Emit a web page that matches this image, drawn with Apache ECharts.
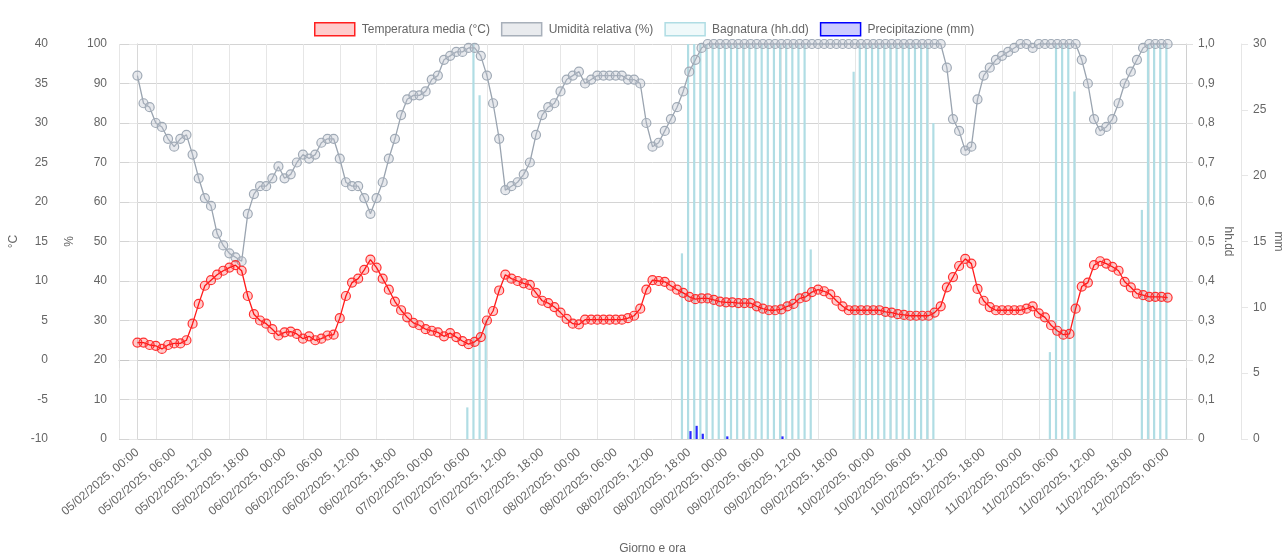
<!DOCTYPE html>
<html>
<head>
<meta charset="utf-8">
<title>Meteo orario</title>
<script src="https://cdn.jsdelivr.net/npm/echarts@6/dist/echarts.min.js"></script>
<style>
html, body { margin: 0; padding: 0; background: #fff; }
#chart { width: 1284px; height: 556px; }
</style>
</head>
<body>
<div id="chart"></div>
<script>
// valori orari, indice 0 = 05/02/2025 00:00 ... indice 168 = 12/02/2025 00:00
var temperatura = [
    2.2, 2.2, 1.9, 1.8, 1.4, 1.9, 2.1, 2.1, 2.5, 4.6, 7.1, 9.4, 10.1, 10.8, 11.3, 11.7, 12.0, 11.3, 8.1, 5.8, 5.0, 4.6, 3.9, 3.1,
    3.5, 3.6, 3.3, 2.7, 3.0, 2.5, 2.7, 3.1, 3.2, 5.3, 8.1, 9.8, 10.3, 11.4, 12.7, 11.7, 10.3, 8.9, 7.4, 6.3, 5.4, 4.7, 4.4, 3.9,
    3.7, 3.5, 3.0, 3.4, 2.9, 2.4, 2.0, 2.3, 2.9, 5.0, 6.2, 8.8, 10.8, 10.3, 10.0, 9.7, 9.5, 8.5, 7.5, 7.2, 6.7, 6.0, 5.2, 4.6,
    4.5, 5.1, 5.1, 5.1, 5.1, 5.1, 5.1, 5.1, 5.3, 5.6, 6.5, 8.9, 10.1, 10.0, 9.9, 9.4, 8.9, 8.5, 8.0, 7.7, 7.8, 7.8, 7.6, 7.4,
    7.3, 7.3, 7.2, 7.2, 7.2, 6.8, 6.5, 6.3, 6.3, 6.4, 6.8, 7.1, 7.8, 8.0, 8.6, 8.9, 8.7, 8.3, 7.5, 6.8, 6.3, 6.3, 6.3, 6.3,
    6.3, 6.3, 6.1, 6.0, 5.8, 5.7, 5.6, 5.6, 5.6, 5.6, 6.0, 6.8, 9.2, 10.5, 11.9, 12.8, 12.2, 9.0, 7.5, 6.7, 6.3, 6.3, 6.3, 6.3,
    6.3, 6.5, 6.8, 5.9, 5.4, 4.4, 3.7, 3.2, 3.3, 6.5, 9.3, 9.8, 12.0, 12.5, 12.2, 11.8, 11.3, 9.9, 9.2, 8.4, 8.2, 8.0, 8.0, 8.0,
    7.9
];
var umidita = [
    92, 85, 84, 80, 79, 76, 74, 76, 77, 72, 66, 61, 59, 52, 49, 47, 46, 45, 57, 62, 64, 64, 66, 69,
    66, 67, 70, 72, 71, 72, 75, 76, 76, 71, 65, 64, 64, 61, 57, 61, 65, 71, 76, 82, 86, 87, 87, 88,
    91, 92, 96, 97, 98, 98, 99, 99, 97, 92, 85, 76, 63, 64, 65, 67, 70, 77, 82, 84, 85, 88, 91, 92,
    93, 90, 91, 92, 92, 92, 92, 92, 91, 91, 90, 80, 74, 75, 78, 81, 84, 88, 93, 96, 99, 100, 100, 100,
    100, 100, 100, 100, 100, 100, 100, 100, 100, 100, 100, 100, 100, 100, 100, 100, 100, 100, 100, 100, 100, 100, 100, 100,
    100, 100, 100, 100, 100, 100, 100, 100, 100, 100, 100, 100, 94, 81, 78, 73, 74, 86, 92, 94, 96, 97, 98, 99,
    100, 100, 99, 100, 100, 100, 100, 100, 100, 100, 96, 90, 81, 78, 79, 81, 85, 90, 93, 96, 99, 100, 100, 100,
    100
];
var bagnatura = [
    0, 0, 0, 0, 0, 0, 0, 0, 0, 0, 0, 0, 0, 0, 0, 0, 0, 0, 0, 0, 0, 0, 0, 0,
    0, 0, 0, 0, 0, 0, 0, 0, 0, 0, 0, 0, 0, 0, 0, 0, 0, 0, 0, 0, 0, 0, 0, 0,
    0, 0, 0, 0, 0, 0, 0.08, 1, 0.87, 0.3, 0, 0, 0, 0, 0, 0, 0, 0, 0, 0, 0, 0, 0, 0,
    0, 0, 0, 0, 0, 0, 0, 0, 0, 0, 0, 0, 0, 0, 0, 0, 0, 0.47, 1, 1, 1, 1, 1, 1,
    1, 1, 1, 1, 1, 1, 1, 1, 1, 1, 1, 1, 1, 1, 0.48, 0, 0, 0, 0, 0, 0, 0.93, 1, 1,
    1, 1, 1, 1, 1, 1, 1, 1, 1, 1, 0.8, 0, 0, 0, 0, 0, 0, 0, 0, 0, 0, 0, 0, 0,
    0, 0, 0, 0, 0, 0.22, 1, 1, 1, 0.88, 0, 0, 0, 0, 0, 0, 0, 0, 0, 0, 0.58, 1, 1, 1,
    1
];
var precipitazione = [
    0, 0, 0, 0, 0, 0, 0, 0, 0, 0, 0, 0, 0, 0, 0, 0, 0, 0, 0, 0, 0, 0, 0, 0,
    0, 0, 0, 0, 0, 0, 0, 0, 0, 0, 0, 0, 0, 0, 0, 0, 0, 0, 0, 0, 0, 0, 0, 0,
    0, 0, 0, 0, 0, 0, 0, 0, 0, 0, 0, 0, 0, 0, 0, 0, 0, 0, 0, 0, 0, 0, 0, 0,
    0, 0, 0, 0, 0, 0, 0, 0, 0, 0, 0, 0, 0, 0, 0, 0, 0, 0, 0.6, 1.0, 0.4, 0, 0, 0,
    0.2, 0, 0, 0, 0, 0, 0, 0, 0, 0.2, 0, 0, 0, 0, 0, 0, 0, 0, 0, 0, 0, 0, 0, 0,
    0, 0, 0, 0, 0, 0, 0, 0, 0, 0, 0, 0, 0, 0, 0, 0, 0, 0, 0, 0, 0, 0, 0, 0,
    0, 0, 0, 0, 0, 0, 0, 0, 0, 0, 0, 0, 0, 0, 0, 0, 0, 0, 0, 0, 0, 0, 0, 0,
    0
];
// etichette asse x ogni 6 ore
var tickOre = [0, 6, 12, 18, 24, 30, 36, 42, 48, 54, 60, 66, 72, 78, 84, 90, 96, 102, 108, 114, 120, 126, 132, 138, 144, 150, 156, 162, 168];

var FONT = "'Liberation Sans', Arial, sans-serif";
var GRIGIO = '#666';

function pad(n) { return n < 10 ? '0' + n : '' + n; }
function labelOra(h) {
    var giorno = 5 + Math.floor(h / 24);
    return pad(giorno) + '/02/2025, ' + pad(h % 24) + ':00';
}
function coppie(arr) {
    return arr.map(function (v, i) { return [i, v === 0 ? null : v]; });
}
function coppieLinea(arr) {
    return arr.map(function (v, i) { return [i, v]; });
}

var chart = echarts.init(document.getElementById('chart'));

var option = {
    animation: false,
    textStyle: { fontFamily: FONT },
    grid: { left: 119, right: 98, top: 44, bottom: 117, outerBoundsMode: 'none' },
    legend: {
        left: 309,
        top: 17,
        itemWidth: 40,
        itemHeight: 13,
        itemGap: 11,
        textStyle: { color: GRIGIO, fontSize: 12, fontFamily: FONT, padding: [0, 0, 0, 2] },
        data: [
            { name: 'Temperatura media (°C)', icon: 'rect', itemStyle: { color: 'rgba(255,0,0,0.2)', borderColor: '#ff2020', borderWidth: 1.5 } },
            { name: 'Umidità relativa (%)', icon: 'rect', itemStyle: { color: 'rgba(200,205,212,0.4)', borderColor: '#a8b0ba', borderWidth: 1.5 } },
            { name: 'Bagnatura (hh.dd)', icon: 'rect', itemStyle: { color: 'rgba(176,224,230,0.2)', borderColor: '#b0dde4', borderWidth: 1.5 } },
            { name: 'Precipitazione (mm)', icon: 'rect', itemStyle: { color: 'rgba(0,0,255,0.2)', borderColor: '#0000ff', borderWidth: 1.5 } }
        ]
    },
    xAxis: [
        {
            // griglia verticale e tacche (a metà tra le etichette)
            type: 'value',
            min: -3,
            max: 171,
            interval: 6,
            axisLine: { lineStyle: { color: '#c8c8c8' } },
            axisTick: { show: true, length: 8, lineStyle: { color: '#e0e0e0' } },
            axisLabel: { show: false },
            splitLine: { show: true, lineStyle: { color: '#e6e6e6' } }
        },
        {
            // solo etichette
            type: 'value',
            min: -3,
            max: 171,
            position: 'bottom',
            axisLine: { show: false },
            axisTick: { show: false },
            splitLine: { show: false },
            axisLabel: {
                customValues: tickOre,
                rotate: 40,
                margin: 12,
                color: GRIGIO,
                fontSize: 12,
                formatter: labelOra
            },
            name: 'Giorno e ora',
            nameLocation: 'middle',
            nameGap: 104,
            nameTextStyle: { color: GRIGIO, fontSize: 12 }
        }
    ],
    yAxis: [
        {
            type: 'value', position: 'left', offset: 59,
            min: -10, max: 40, interval: 5,
            name: '°C', nameLocation: 'middle', nameGap: 38, nameRotate: 90,
            nameTextStyle: { color: GRIGIO, fontSize: 12 },
            axisLine: { show: true, lineStyle: { color: '#e6e6e6' } },
            axisTick: { show: true, length: 8, lineStyle: { color: '#e6e6e6' } },
            axisLabel: { color: GRIGIO, fontSize: 12, margin: 12 },
            splitLine: { show: true, lineStyle: { color: '#d4d4d4' } }
        },
        {
            type: 'value', position: 'left', offset: 0,
            min: 0, max: 100, interval: 10,
            name: '%', nameLocation: 'middle', nameGap: 41, nameRotate: 90,
            nameTextStyle: { color: GRIGIO, fontSize: 12 },
            axisLine: { show: true, lineStyle: { color: '#d8d8d8' } },
            axisTick: { show: true, length: 8, lineStyle: { color: '#e6e6e6' } },
            axisLabel: { color: GRIGIO, fontSize: 12, margin: 12 },
            splitLine: { show: false }
        },
        {
            type: 'value', position: 'right', offset: 0,
            min: 0, max: 1, interval: 0.1,
            name: 'hh.dd', nameLocation: 'middle', nameGap: 36, nameRotate: -90,
            nameMoveOverlap: false,
            nameTextStyle: { color: GRIGIO, fontSize: 12 },
            axisLine: { show: true, lineStyle: { color: '#d0d0d0' } },
            axisTick: { show: true, length: 7, lineStyle: { color: '#e0e0e0' } },
            axisLabel: {
                color: GRIGIO, fontSize: 12, margin: 12,
                formatter: function (v) { return v === 0 ? '0' : v.toFixed(1).replace('.', ','); }
            },
            splitLine: { show: false }
        },
        {
            type: 'value', position: 'right', offset: 55,
            min: 0, max: 30, interval: 5,
            name: 'mm', nameLocation: 'middle', nameGap: 31, nameRotate: -90,
            nameMoveOverlap: false,
            nameTextStyle: { color: GRIGIO, fontSize: 12 },
            axisLine: { show: true, lineStyle: { color: '#e6e6e6' } },
            axisTick: { show: true, length: 7, lineStyle: { color: '#e6e6e6' } },
            axisLabel: { color: GRIGIO, fontSize: 12, margin: 12 },
            splitLine: { show: false }
        }
    ],
    series: [
        {
            name: 'Bagnatura (hh.dd)',
            type: 'bar',
            xAxisIndex: 0,
            yAxisIndex: 2,
            barWidth: 2.2,
            barGap: '10%',
            itemStyle: { color: '#b0dde4' },
            data: coppie(bagnatura)
        },
        {
            name: 'Precipitazione (mm)',
            type: 'bar',
            xAxisIndex: 0,
            yAxisIndex: 3,
            barWidth: 2.2,
            barGap: '10%',
            itemStyle: { color: '#2a2aff' },
            data: coppie(precipitazione)
        },
        {
            name: 'Umidità relativa (%)',
            type: 'line',
            xAxisIndex: 0,
            yAxisIndex: 1,
            clip: false,
            symbol: 'circle',
            symbolSize: 9,
            lineStyle: { color: '#9aa4b0', width: 1.3 },
            itemStyle: { color: 'rgba(185,193,204,0.35)', borderColor: '#a0aab6', borderWidth: 1.2 },
            data: coppieLinea(umidita)
        },
        {
            name: 'Temperatura media (°C)',
            type: 'line',
            xAxisIndex: 0,
            yAxisIndex: 0,
            clip: false,
            symbol: 'circle',
            symbolSize: 9,
            lineStyle: { color: '#ff1a1a', width: 1.3 },
            itemStyle: { color: 'rgba(255,0,0,0.2)', borderColor: '#ff3030', borderWidth: 1.2 },
            data: coppieLinea(temperatura)
        }
    ]
};

chart.setOption(option);
</script>
</body>
</html>
